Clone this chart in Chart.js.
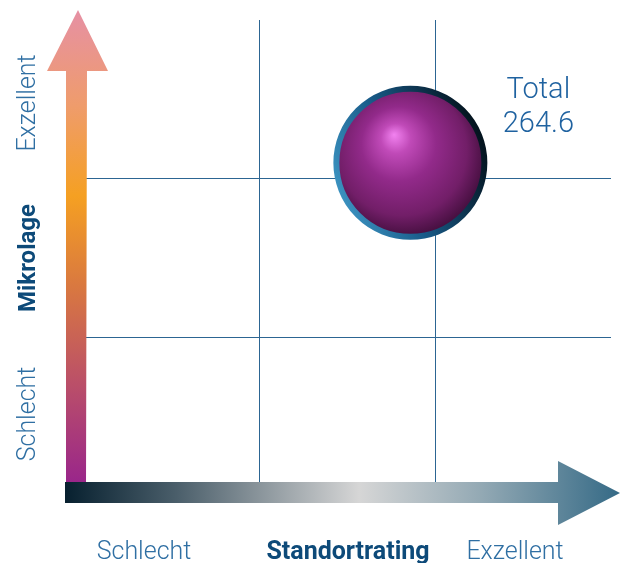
<!DOCTYPE html>
<html>
<head>
<meta charset="utf-8">
<script src="https://cdn.jsdelivr.net/npm/chart.js@4/dist/chart.umd.min.js"></script>
<style>
    html, body { margin: 0; padding: 0; background: #ffffff; }
    #wrap { width: 620px; height: 563px; position: relative; }
</style>
</head>
<body>
<div id="wrap"><canvas id="chart"></canvas></div>
<script>
// data
const bubbleX = [1.86];
const bubbleY = [2.1];
const bubbleR = [74];
const totalLabel = ['Total', '264.6'];
const xAxisLabels = ['Schlecht', 'Standortrating', 'Exzellent'];
const yAxisLabels = ['Schlecht', 'Mikrolage', 'Exzellent'];
const gridTicks = [1, 2];

const FONT = 'Roboto, "Liberation Sans", sans-serif';
const LIGHT_BLUE = '#2f6fa3';
const DARK_BLUE = '#0d4a79';
const GRID_COLOR = '#2c6592';

function gridColor(ctx) {
    return gridTicks.includes(ctx.tick && ctx.tick.value) ? GRID_COLOR : 'rgba(0,0,0,0)';
}

function bubbleFill(ctx) {
    const chart = ctx.chart;
    if (!chart.chartArea || !ctx.raw) return '#8a2a80';
    const cx = chart.scales.x.getPixelForValue(ctx.raw.x);
    const cy = chart.scales.y.getPixelForValue(ctx.raw.y);
    const r = ctx.raw.r;
    const g = chart.ctx.createRadialGradient(cx - r * 0.22, cy - r * 0.38, 0, cx - r * 0.08, cy - r * 0.1, r * 1.12);
    g.addColorStop(0, '#f282f0');
    g.addColorStop(0.18, '#c04ab8');
    g.addColorStop(0.45, '#922a8a');
    g.addColorStop(0.78, '#721e68');
    g.addColorStop(1, '#420e3c');
    return g;
}

function bubbleBorder(ctx) {
    const chart = ctx.chart;
    if (!chart.chartArea || !ctx.raw) return '#1d6a98';
    const cx = chart.scales.x.getPixelForValue(ctx.raw.x);
    const cy = chart.scales.y.getPixelForValue(ctx.raw.y);
    const r = ctx.raw.r;
    const g = chart.ctx.createLinearGradient(cx - r, cy + r * 0.6, cx + r, cy - r * 0.2);
    g.addColorStop(0, '#3f98c6');
    g.addColorStop(0.45, '#185a88');
    g.addColorStop(1, '#04141f');
    return g;
}

const axesPlugin = {
    id: 'axesPlugin',
    afterDatasetsDraw(chart) {
        const c = chart.ctx;
        c.save();

        // vertical arrow
        let g = c.createLinearGradient(0, 487, 0, 10);
        g.addColorStop(0, '#98248c');
        g.addColorStop(0.22, '#bb5068');
        g.addColorStop(0.42, '#d97840');
        g.addColorStop(0.61, '#f5a022');
        g.addColorStop(0.8, '#ef9c6c');
        g.addColorStop(1, '#e690a4');
        c.fillStyle = g;
        c.beginPath();
        c.moveTo(66, 487);
        c.lineTo(66, 71);
        c.lineTo(47, 71);
        c.lineTo(78, 10);
        c.lineTo(108, 71);
        c.lineTo(87, 71);
        c.lineTo(86, 487);
        c.closePath();
        c.fill();

        // horizontal arrow
        g = c.createLinearGradient(65, 0, 620, 0);
        g.addColorStop(0, '#07202f');
        g.addColorStop(0.2, '#4a5e6a');
        g.addColorStop(0.53, '#d6d6d6');
        g.addColorStop(0.75, '#93a9b4');
        g.addColorStop(1, '#356a86');
        c.fillStyle = g;
        c.beginPath();
        c.moveTo(65, 482);
        c.lineTo(558, 482);
        c.lineTo(558, 461);
        c.lineTo(620, 493);
        c.lineTo(558, 525);
        c.lineTo(558, 503);
        c.lineTo(65, 503);
        c.closePath();
        c.fill();

        // x labels
        c.textBaseline = 'alphabetic';
        c.textAlign = 'center';
        const xPos = [144, 348, 515];
        xAxisLabels.forEach((t, i) => {
            c.font = i === 1 ? 'bold 25px ' + FONT : '300 25px ' + FONT;
            c.fillStyle = i === 1 ? DARK_BLUE : LIGHT_BLUE;
            c.fillText(t, xPos[i], 559);
        });

        // y labels
        const yPos = [414, 258, 103];
        yAxisLabels.forEach((t, i) => {
            c.save();
            c.translate(35, yPos[i]);
            c.rotate(-Math.PI / 2);
            c.font = i === 1 ? 'bold 24px ' + FONT : '300 25px ' + FONT;
            c.fillStyle = i === 1 ? DARK_BLUE : LIGHT_BLUE;
            c.fillText(t, 0, 0);
            c.restore();
        });

        // total label next to bubble
        const el = chart.getDatasetMeta(0).data[0];
        if (el) {
            c.font = '300 29px ' + FONT;
            c.fillStyle = '#1f62a0';
            c.fillText(totalLabel[0], el.x + 128, el.y - 65);
            c.fillText(totalLabel[1], el.x + 128, el.y - 31);
        }
        c.restore();
    }
};

new Chart(document.getElementById('chart'), {
    type: 'bubble',
    data: {
        datasets: [{
            data: bubbleX.map((x, i) => ({ x: x, y: bubbleY[i], r: bubbleR[i] })),
            backgroundColor: bubbleFill,
            borderColor: bubbleBorder,
            borderWidth: 6,
            hoverRadius: 0
        }]
    },
    options: {
        responsive: true,
        maintainAspectRatio: false,
        animation: false,
        layout: { autoPadding: false, padding: { left: 83, right: 9, top: 20, bottom: 67 } },
        plugins: {
            legend: { display: false },
            tooltip: { enabled: false }
        },
        scales: {
            x: {
                min: 0, max: 3,
                ticks: { display: false, stepSize: 1 },
                border: { display: false },
                grid: { color: gridColor, lineWidth: 1, drawTicks: false }
            },
            y: {
                min: 0, max: 3,
                ticks: { display: false, stepSize: 1 },
                border: { display: false },
                grid: { color: gridColor, lineWidth: 1, drawTicks: false }
            }
        }
    },
    plugins: [axesPlugin]
});
</script>
</body>
</html>
